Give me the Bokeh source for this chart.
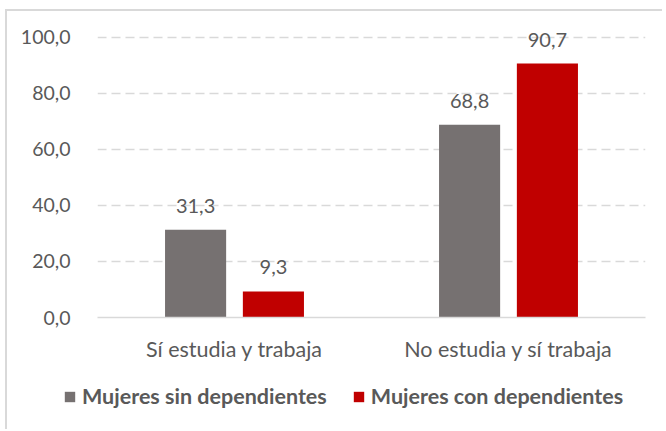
from bokeh.plotting import figure
from bokeh.layouts import column
from bokeh.models import FactorRange, Range1d, FixedTicker, Legend, LegendItem, ColumnDataSource
from bokeh.transform import dodge
from bokeh.embed import file_html
from bokeh.resources import INLINE
from bokeh.core.properties import value

categories = ["Sí estudia y trabaja", "No estudia y sí trabaja"]
sin_dependientes = [31.3, 68.8]
con_dependientes = [9.3, 90.7]
series_names = ["Mujeres sin dependientes", "Mujeres con dependientes"]
y_ticks = [0, 20, 40, 60, 80, 100]

FONT = "Lato"
TXT = "#595959"
GRAY = "#767171"
RED = "#C00000"

def fmt(v):
    return f"{v:.1f}".replace(".", ",")

src = ColumnDataSource(dict(
    cat=categories,
    sin=sin_dependientes,
    con=con_dependientes,
    sin_lbl=[fmt(v) for v in sin_dependientes],
    con_lbl=[fmt(v) for v in con_dependientes],
))

p = figure(
    width=655, height=360,
    x_range=FactorRange(factors=categories, range_padding=0),
    y_range=Range1d(0, 106.07),
    output_backend="svg", toolbar_location=None,
    min_border_left=90, min_border_right=17, min_border_top=9, min_border_bottom=54,
)
p.frame_align = False
p.outline_line_color = None
p.background_fill_color = "white"
p.border_fill_color = "white"

off = 0.142
w = 0.223
p.vbar(x=dodge("cat", -off, range=p.x_range), top="sin", width=w, source=src,
       fill_color=GRAY, line_color=None)
p.vbar(x=dodge("cat", off, range=p.x_range), top="con", width=w, source=src,
       fill_color=RED, line_color=None)

for col, lbl, o in (("sin", "sin_lbl", -off), ("con", "con_lbl", off)):
    p.text(x=dodge("cat", o, range=p.x_range), y=col, text=lbl, source=src,
           text_align="center", text_baseline="middle", y_offset=-24,
           text_font=value(FONT), text_font_size="20px", text_color=TXT)

# y axis
p.yaxis.ticker = FixedTicker(ticks=y_ticks)
p.yaxis.major_label_overrides = {t: fmt(t) for t in y_ticks}
p.yaxis.axis_line_color = None
p.yaxis.major_tick_line_color = None
p.yaxis.minor_tick_line_color = None
p.yaxis.major_label_standoff = 21
p.yaxis.major_label_text_font = FONT
p.yaxis.major_label_text_font_size = "19.5px"
p.yaxis.major_label_text_color = TXT

# x axis
p.xaxis.axis_line_color = "#d9d9d9"
p.xaxis.axis_line_width = 1.5
p.xaxis.major_tick_line_color = None
p.xaxis.minor_tick_line_color = None
p.xaxis.major_label_standoff = 12
p.xaxis.major_label_text_font = FONT
p.xaxis.major_label_text_font_size = "21.5px"
p.xaxis.major_label_text_color = TXT

p.xgrid.grid_line_color = None
p.ygrid.ticker = FixedTicker(ticks=[t for t in y_ticks if t > 0])
p.ygrid.grid_line_color = "#d9d9d9"
p.ygrid.grid_line_width = 1.5
p.ygrid.grid_line_dash = "9 5"

# legend strip (its own small figure so the legend is not clipped)
lf = figure(width=655, height=58, x_range=FactorRange(factors=categories), y_range=Range1d(0, 1),
            x_axis_type=None, y_axis_type=None, output_backend="svg",
            toolbar_location=None, min_border=0)
lf.frame_align = False
lf.outline_line_color = None
lf.grid.grid_line_color = None
lf.background_fill_color = "white"
lf.border_fill_color = "white"
e1 = lf.vbar(x="cat", top="sin", width=w, source=src, fill_color=GRAY, line_color=None, visible=False)
e2 = lf.vbar(x="cat", top="con", width=w, source=src, fill_color=RED, line_color=None, visible=False)

legend = Legend(
    items=[LegendItem(label=series_names[0], renderers=[e1]),
           LegendItem(label=series_names[1], renderers=[e2])],
    orientation="horizontal", location=(56, 20), click_policy="none",
    glyph_width=13, glyph_height=13, label_standoff=6, spacing=25,
    padding=0, margin=0, border_line_color=None, background_fill_alpha=0,
    inactive_fill_alpha=0,
    label_text_font=FONT, label_text_font_size="21.5px", label_text_font_style="bold",
    label_text_color=TXT,
)
lf.add_layout(legend, "center")

layout = column(p, lf, spacing=0)
layout.styles = {"margin-left": "5px", "margin-top": "9px",
                 "border-left": "2px solid #d9d9d9", "border-top": "2px solid #d9d9d9"}

open("out.html", "w").write(file_html(layout, INLINE))
